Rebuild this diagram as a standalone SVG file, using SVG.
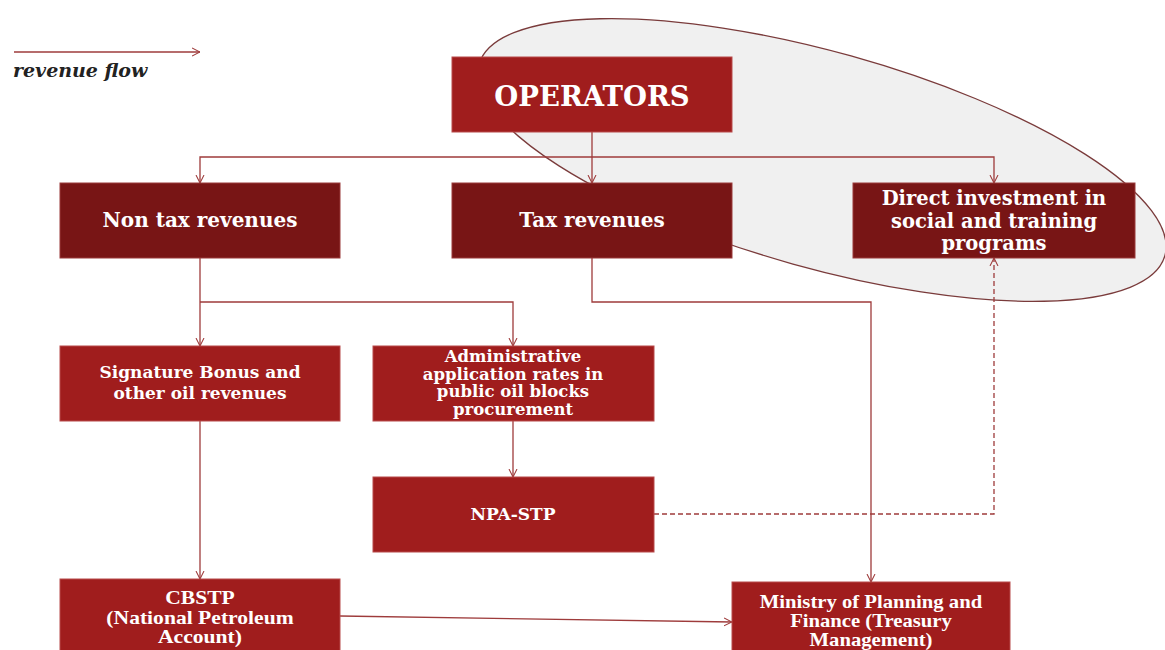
<svg xmlns="http://www.w3.org/2000/svg" width="1165" height="650" viewBox="0 0 1165 650">
<defs>
<marker id="arr" viewBox="0 0 10 10" refX="10" refY="5" markerWidth="8" markerHeight="12" markerUnits="userSpaceOnUse" orient="auto">
<path d="M0,0 L10,5 L0,10" fill="none" stroke="#9e3b3b" stroke-width="1.3"/>
</marker>
<style>
.mid{fill:#a01d1d;stroke:#b84a4a;stroke-width:1}
.dark{fill:#781515;stroke:#9a3a3a;stroke-width:1}
.t{font-family:"DejaVu Serif",serif;font-weight:bold;fill:#fff;text-anchor:middle}
.n{font-family:"Liberation Serif",serif;font-weight:bold;fill:#fff;text-anchor:middle;font-size:18px}
.c{fill:none;stroke:#9e3b3b;stroke-width:1.3}
</style>
</defs>
<rect width="1165" height="650" fill="#fff"/>
<ellipse cx="822" cy="160" rx="356" ry="108" transform="rotate(15.6 822 160)" fill="#f0f0f0" stroke="#7a3b3b" stroke-width="1.3"/>
<g id="legend">
<line x1="14" y1="52" x2="200" y2="52" class="c" marker-end="url(#arr)"/>
<text x="13" y="77" font-family="DejaVu Serif, serif" font-weight="bold" font-style="italic" font-size="19" fill="#222">revenue flow</text>
</g>
<g id="connectors">
<path class="c" d="M592,132 V183" marker-end="url(#arr)"/>
<path class="c" d="M592,157 H200 V183" marker-end="url(#arr)"/>
<path class="c" d="M592,157 H994 V183" marker-end="url(#arr)"/>
<path class="c" d="M200,258 V346" marker-end="url(#arr)"/>
<path class="c" d="M200,302 H513 V346" marker-end="url(#arr)"/>
<path class="c" d="M592,258 V302 H871 V582" marker-end="url(#arr)"/>
<path class="c" d="M200,421 V579" marker-end="url(#arr)"/>
<path class="c" d="M513,421 V477" marker-end="url(#arr)"/>
<path class="c" d="M654,514 H994 V258" stroke-dasharray="5,3" marker-end="url(#arr)"/>
<path class="c" d="M340,616 L732,622" marker-end="url(#arr)"/>
</g>
<g id="operators">
<rect class="mid" x="452" y="57" width="280" height="75"/>
<text class="t" x="592" y="106" font-size="27.5">OPERATORS</text>
</g>
<g id="non-tax">
<rect class="dark" x="60" y="183" width="280" height="75"/>
<text class="t" x="200" y="227" font-size="20">Non tax revenues</text>
</g>
<g id="tax">
<rect class="dark" x="452" y="183" width="280" height="75"/>
<text class="t" x="592" y="227" font-size="20">Tax revenues</text>
</g>
<g id="direct">
<rect class="dark" x="853" y="183" width="282" height="75"/>
<text class="t" x="994" y="205" font-size="19.5">Direct investment in</text>
<text class="t" x="994" y="228" font-size="19.5">social and training</text>
<text class="t" x="994" y="250" font-size="19.5">programs</text>
</g>
<g id="signature">
<rect class="mid" x="60" y="346" width="280" height="75"/>
<text class="t" x="200" y="378" font-size="17">Signature Bonus and</text>
<text class="t" x="200" y="399" font-size="17">other oil revenues</text>
</g>
<g id="administrative">
<rect class="mid" x="373" y="346" width="281" height="75"/>
<text class="t" x="513" y="362" font-size="16.5">Administrative</text>
<text class="t" x="513" y="379.5" font-size="16.5">application rates in</text>
<text class="t" x="513" y="397" font-size="16.5">public oil blocks</text>
<text class="t" x="513" y="414.5" font-size="16.5">procurement</text>
</g>
<g id="npa-stp">
<rect class="mid" x="373" y="477" width="281" height="75"/>
<text class="t" x="513" y="520" font-size="17">NPA-STP</text>
</g>
<g id="cbstp">
<rect class="mid" x="60" y="579" width="280" height="75"/>
<g transform="translate(200 0) scale(1.2 1)">
<text class="n" x="0" y="604">CBSTP</text>
<text class="n" x="0" y="624">(National Petroleum</text>
<text class="n" x="0" y="643">Account)</text>
</g>
</g>
<g id="ministry">
<rect class="mid" x="732" y="582" width="278" height="75"/>
<g transform="translate(871 0) scale(1.15 1)">
<text class="n" x="0" y="608">Ministry of Planning and</text>
<text class="n" x="0" y="627">Finance (Treasury</text>
<text class="n" x="0" y="646">Management)</text>
</g>
</g>
</svg>
